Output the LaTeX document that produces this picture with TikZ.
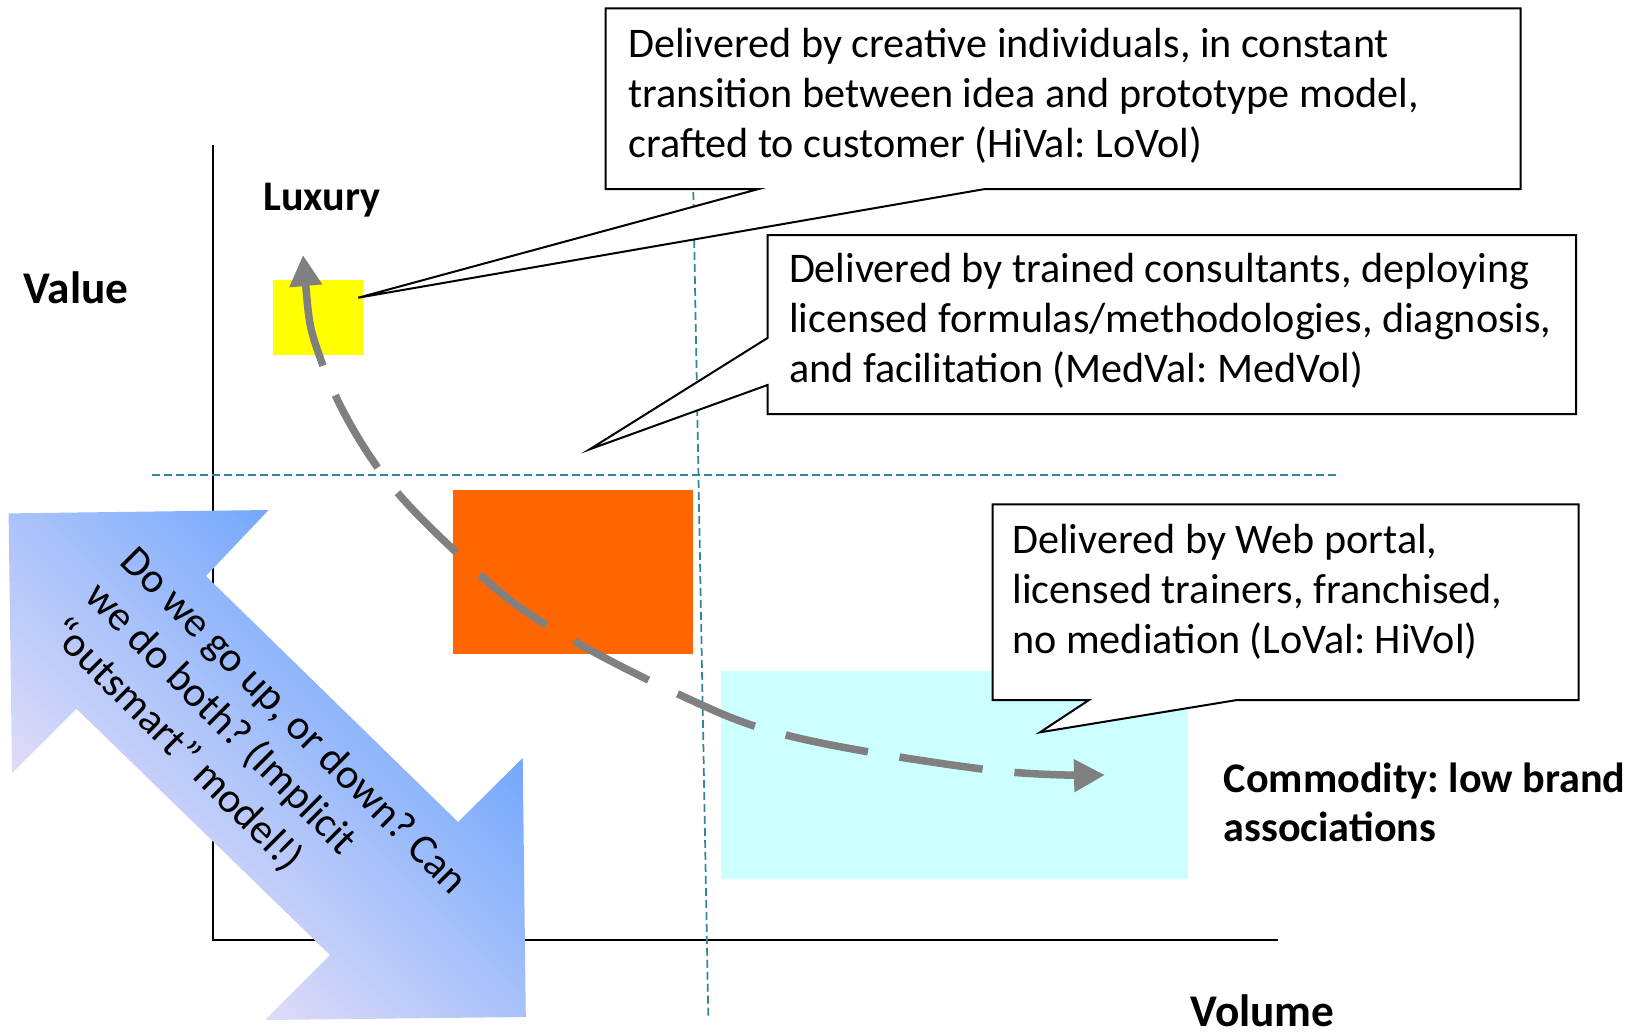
\documentclass[tikz,border=0pt]{standalone}
\usepackage{fontspec}
\setmainfont{Carlito}
\usetikzlibrary{arrows.meta}

\definecolor{guide}{HTML}{31859C}
\definecolor{flowgray}{HTML}{808080}
\definecolor{luxfill}{HTML}{FFFF00}
\definecolor{midfill}{HTML}{FF6600}
\definecolor{comfill}{HTML}{CCFFFF}
\definecolor{arrowdark}{HTML}{5E9EFD}
\definecolor{arrowmid}{HTML}{85C3FC}
\definecolor{arrowpale}{HTML}{F5E6F7}

\begin{document}
\frenchspacing
\begin{tikzpicture}[x=0.02cm, y=-0.02cm,
  axisline/.style={line width=0.04cm, black},
  guideline/.style={line width=0.035cm, guide, dash pattern=on 0.16cm off 0.08cm},
  calloutbox/.style={draw=black, line width=0.04cm, fill=white, line join=miter},
  callouttext/.style={anchor=north west, inner sep=0pt, align=left,
    font=\fontsize{24}{28.45}\selectfont},
  axislabel/.style={anchor=base west, inner sep=0pt, font=\bfseries\fontsize{25.8}{31}\selectfont},
  zonelabel/.style={inner sep=0pt, align=left, font=\bfseries\fontsize{24}{27.5}\selectfont},
  zone/.style={inner sep=0pt, anchor=north west, outer sep=0pt},
  trend/.style={line width=0.15cm, flowgray, dash pattern=on 1.68cm off 0.64cm,
    {Triangle[length=0.62cm,width=0.62cm]}-{Triangle[length=0.62cm,width=0.62cm]}}
]
\useasboundingbox (0,0) rectangle (1645,1031);

% axes
\coordinate (ytop) at (212.5,145);
\coordinate (origin) at (212.5,939.5);
\coordinate (xend) at (1277.5,939.5);
\draw[axisline] (ytop) -- (origin) -- (xend);

% quadrant guides
\coordinate (hg1) at (152,475);
\coordinate (hg2) at (1337.5,475);
\coordinate (vg1) at (693.3,192);
\coordinate (vg2) at (708.3,1018);
\draw[guideline] (hg1) -- (hg2);
\draw[guideline] (vg1) -- (vg2);

% market zones
\node[zone, fill=luxfill, minimum width=1.806cm, minimum height=1.5cm] (lux) at (272.7,280) {};
\node[zone, fill=midfill, minimum width=4.794cm, minimum height=3.286cm] (mid) at (453,490) {};
\node[zone, fill=comfill, minimum width=9.34cm, minimum height=4.172cm] (com) at (721,670.7) {};

% labels
\node[axislabel] (value) at (23,303.3) {Value};
\node[axislabel] (volume) at (1190,1026) {Volume};
\node[zonelabel, anchor=base west] (luxury) at (263,210) {Luxury};
\node[zonelabel, anchor=north west] (commodity) at (1223.4,763) {Commodity: low brand\\associations};

% callouts
\draw[calloutbox] (605.5,8.3) -- (1520.7,8.3) -- (1520.7,189) -- (985,189)
  -- (358.3,297.7) -- (758.6,189) -- (605.5,189) -- cycle;
\node[callouttext] (c1) at (628,28) {Delivered by creative individuals, in constant\\transition between idea and prototype model,\\crafted to customer (HiVal: LoVol)};

\draw[calloutbox] (767.5,235) -- (1576,235) -- (1576,414) -- (767.5,414)
  -- (767.5,385) -- (589.7,449.3) -- (767.5,338) -- cycle;
\node[callouttext] (c2) at (788.7,252.7) {Delivered by trained consultants, deploying\\licensed formulas/methodologies, diagnosis,\\and facilitation (MedVal: MedVol)};

\draw[calloutbox] (992.6,504.3) -- (1578.5,504.3) -- (1578.5,700) -- (1237,700)
  -- (1040,732.3) -- (1089,700) -- (992.6,700) -- cycle;
\node[callouttext] (c3) at (1012,523.7) {Delivered by Web portal,\\licensed trainers, franchised,\\no mediation (LoVal: HiVol)};

% two-way question arrow
\shade[top color=arrowdark, middle color=arrowmid, bottom color=arrowpale, shading angle=-45]
  (8.6,513.4) -- (268.6,510) -- (206,576) -- (458,822) -- (522.7,758) -- (525.8,1017)
  -- (265,1020) -- (330,955) -- (76.4,708.7) -- (12,773) -- cycle;
\node[rotate=-45, align=left, inner sep=0pt, font=\fontsize{24}{28.45}\selectfont] (question) at (258,757)
  {Do we go up, or down? Can\\we do both? (Implicit\\“outsmart” model!)};

% trend from luxury to commodity
\coordinate (luxtip) at (303,255);
\coordinate (comtip) at (1105,775);
\draw[trend] plot[smooth, tension=0.6] coordinates {(luxtip) (322,363) (378,468) (458,554) (540,621) (680,695) (794,737) (990,770) (comtip)};

\end{tikzpicture}
\end{document}
